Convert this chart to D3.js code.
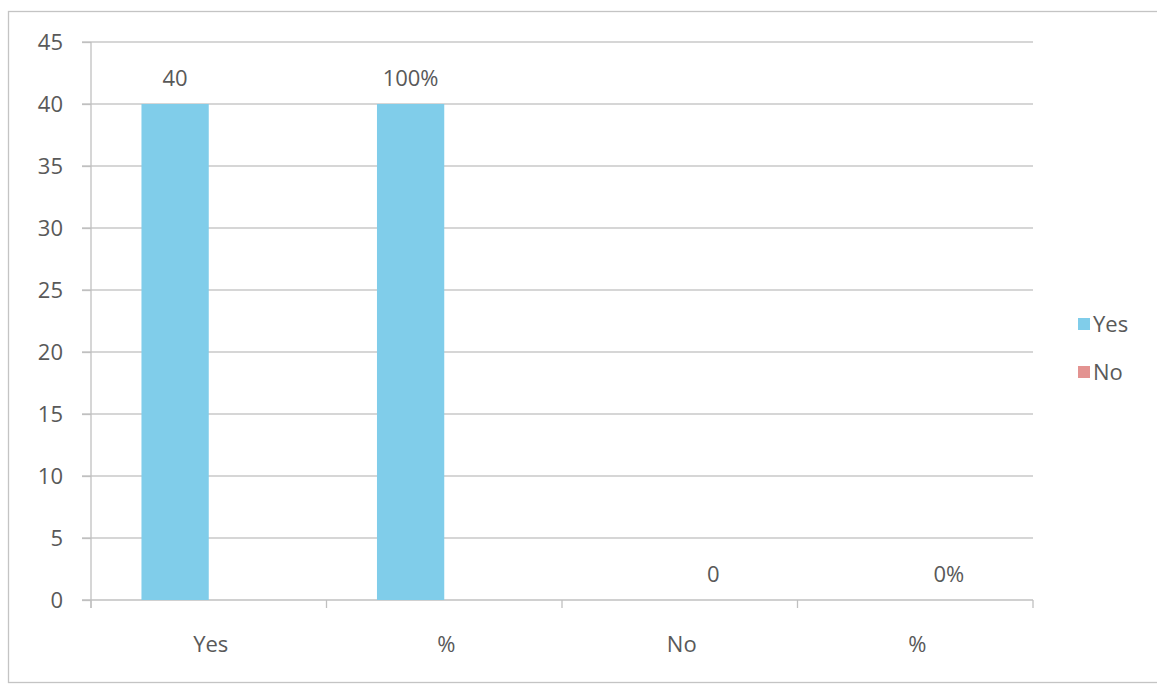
<!DOCTYPE html>
<html>
<head>
<meta charset="utf-8">
<script src="https://cdn.jsdelivr.net/npm/d3@7"></script>
<style>
	body { margin: 0; background: #fff; }
	text { font-family: "Open Sans", "DejaVu Sans", sans-serif; fill: #595959; }
	.grid line { stroke: #c8c8c8; stroke-width: 1.3; }
	.axis path, .axis line { stroke: #c0c0c0; stroke-width: 1.3; }
</style>
</head>
<body>
<svg id="chart" width="1157" height="684"></svg>
<script>
// chart data
var categories = ['Yes', '%', 'No', '%\u200b'];
var categoryLabels = ['Yes', '%', 'No', '%'];
var seriesNames = ['Yes', 'No'];
var yesValues = [40, 40, null, null];
var noValues = [null, null, 0, 0];
var yesLabels = ['40', '100%', null, null];
var noLabels = [null, null, '0', '0%'];
var yTicks = [0, 5, 10, 15, 20, 25, 30, 35, 40, 45];

var colors = { Yes: '#80cdea', No: '#e39391' };
var fontSize = '22px';

var svg = d3.select('#chart');

// frame of the scanned chart
svg.append('rect')
	.attr('x', 8.5).attr('y', 11.5)
	.attr('width', 1160).attr('height', 671)
	.attr('fill', 'none')
	.attr('stroke', '#c4c4c4')
	.attr('stroke-width', 1.3);

var plotLeft = 91, plotRight = 1033, plotTop = 42, plotBottom = 600;

var y = d3.scaleLinear().domain([0, 45]).range([plotBottom, plotTop]);

var x0 = d3.scaleBand().domain(categories).range([plotLeft, plotRight]).padding(0);

var x1 = d3.scaleBand().domain(seriesNames)
	.range([0, x0.bandwidth()])
	.paddingInner(0)
	.paddingOuter(0.75);

// gridlines
svg.append('g')
	.attr('class', 'grid')
	.selectAll('line')
	.data(yTicks.filter(d => d > 0))
	.enter()
	.append('line')
	.attr('x1', plotLeft - 9)
	.attr('x2', plotRight)
	.attr('y1', d => y(d))
	.attr('y2', d => y(d));

// y axis
var yAxis = svg.append('g')
	.attr('class', 'axis')
	.attr('transform', 'translate(' + plotLeft + ',0)')
	.call(d3.axisLeft(y).tickValues(yTicks).tickSize(9).tickPadding(19));
yAxis.selectAll('text').style('font-size', fontSize).attr('fill', '#595959');
yAxis.select('path.domain').attr('d', 'M0,' + plotTop + 'V' + (plotBottom + 8));

// x axis
var xAxis = svg.append('g')
	.attr('class', 'axis')
	.attr('transform', 'translate(0,' + plotBottom + ')');

xAxis.append('line')
	.attr('x1', plotLeft - 9).attr('x2', plotRight)
	.attr('y1', 0).attr('y2', 0);

xAxis.selectAll('line.tick')
	.data(d3.range(categories.length + 1))
	.enter()
	.append('line')
	.attr('class', 'tick')
	.attr('x1', d => plotLeft + d * x0.step())
	.attr('x2', d => plotLeft + d * x0.step())
	.attr('y1', 0)
	.attr('y2', 8);

xAxis.selectAll('text')
	.data(categories)
	.enter()
	.append('text')
	.attr('x', d => x0(d) + x0.bandwidth() / 2 + 2)
	.attr('y', 52)
	.attr('text-anchor', 'middle')
	.style('font-size', fontSize)
	.text((d, i) => categoryLabels[i]);

// bars
var rows = [];
categories.forEach(function(c, i) {
	rows.push({ cat: c, series: 'Yes', value: yesValues[i], label: yesLabels[i] });
	rows.push({ cat: c, series: 'No', value: noValues[i], label: noLabels[i] });
});
rows = rows.filter(d => d.value !== null);

svg.selectAll('rect.bar')
	.data(rows)
	.enter()
	.append('rect')
	.attr('class', 'bar')
	.attr('x', d => x0(d.cat) + x1(d.series))
	.attr('width', x1.bandwidth())
	.attr('y', d => y(d.value))
	.attr('height', d => y(0) - y(d.value))
	.attr('fill', d => colors[d.series]);

svg.selectAll('text.valueLabel')
	.data(rows)
	.enter()
	.append('text')
	.attr('class', 'valueLabel')
	.attr('x', d => x0(d.cat) + x1(d.series) + x1.bandwidth() / 2)
	.attr('y', d => y(d.value) - 18)
	.attr('text-anchor', 'middle')
	.style('font-size', fontSize)
	.text(d => d.label);

// legend
var legend = svg.selectAll('g.legend')
	.data(seriesNames)
	.enter()
	.append('g')
	.attr('class', 'legend')
	.attr('transform', (d, i) => 'translate(1078,' + (318 + i * 48) + ')');

legend.append('rect')
	.attr('width', 12)
	.attr('height', 12)
	.attr('fill', d => colors[d]);

legend.append('text')
	.attr('x', 15)
	.attr('y', 14)
	.style('font-size', fontSize)
	.text(d => d);
</script>
</body>
</html>
